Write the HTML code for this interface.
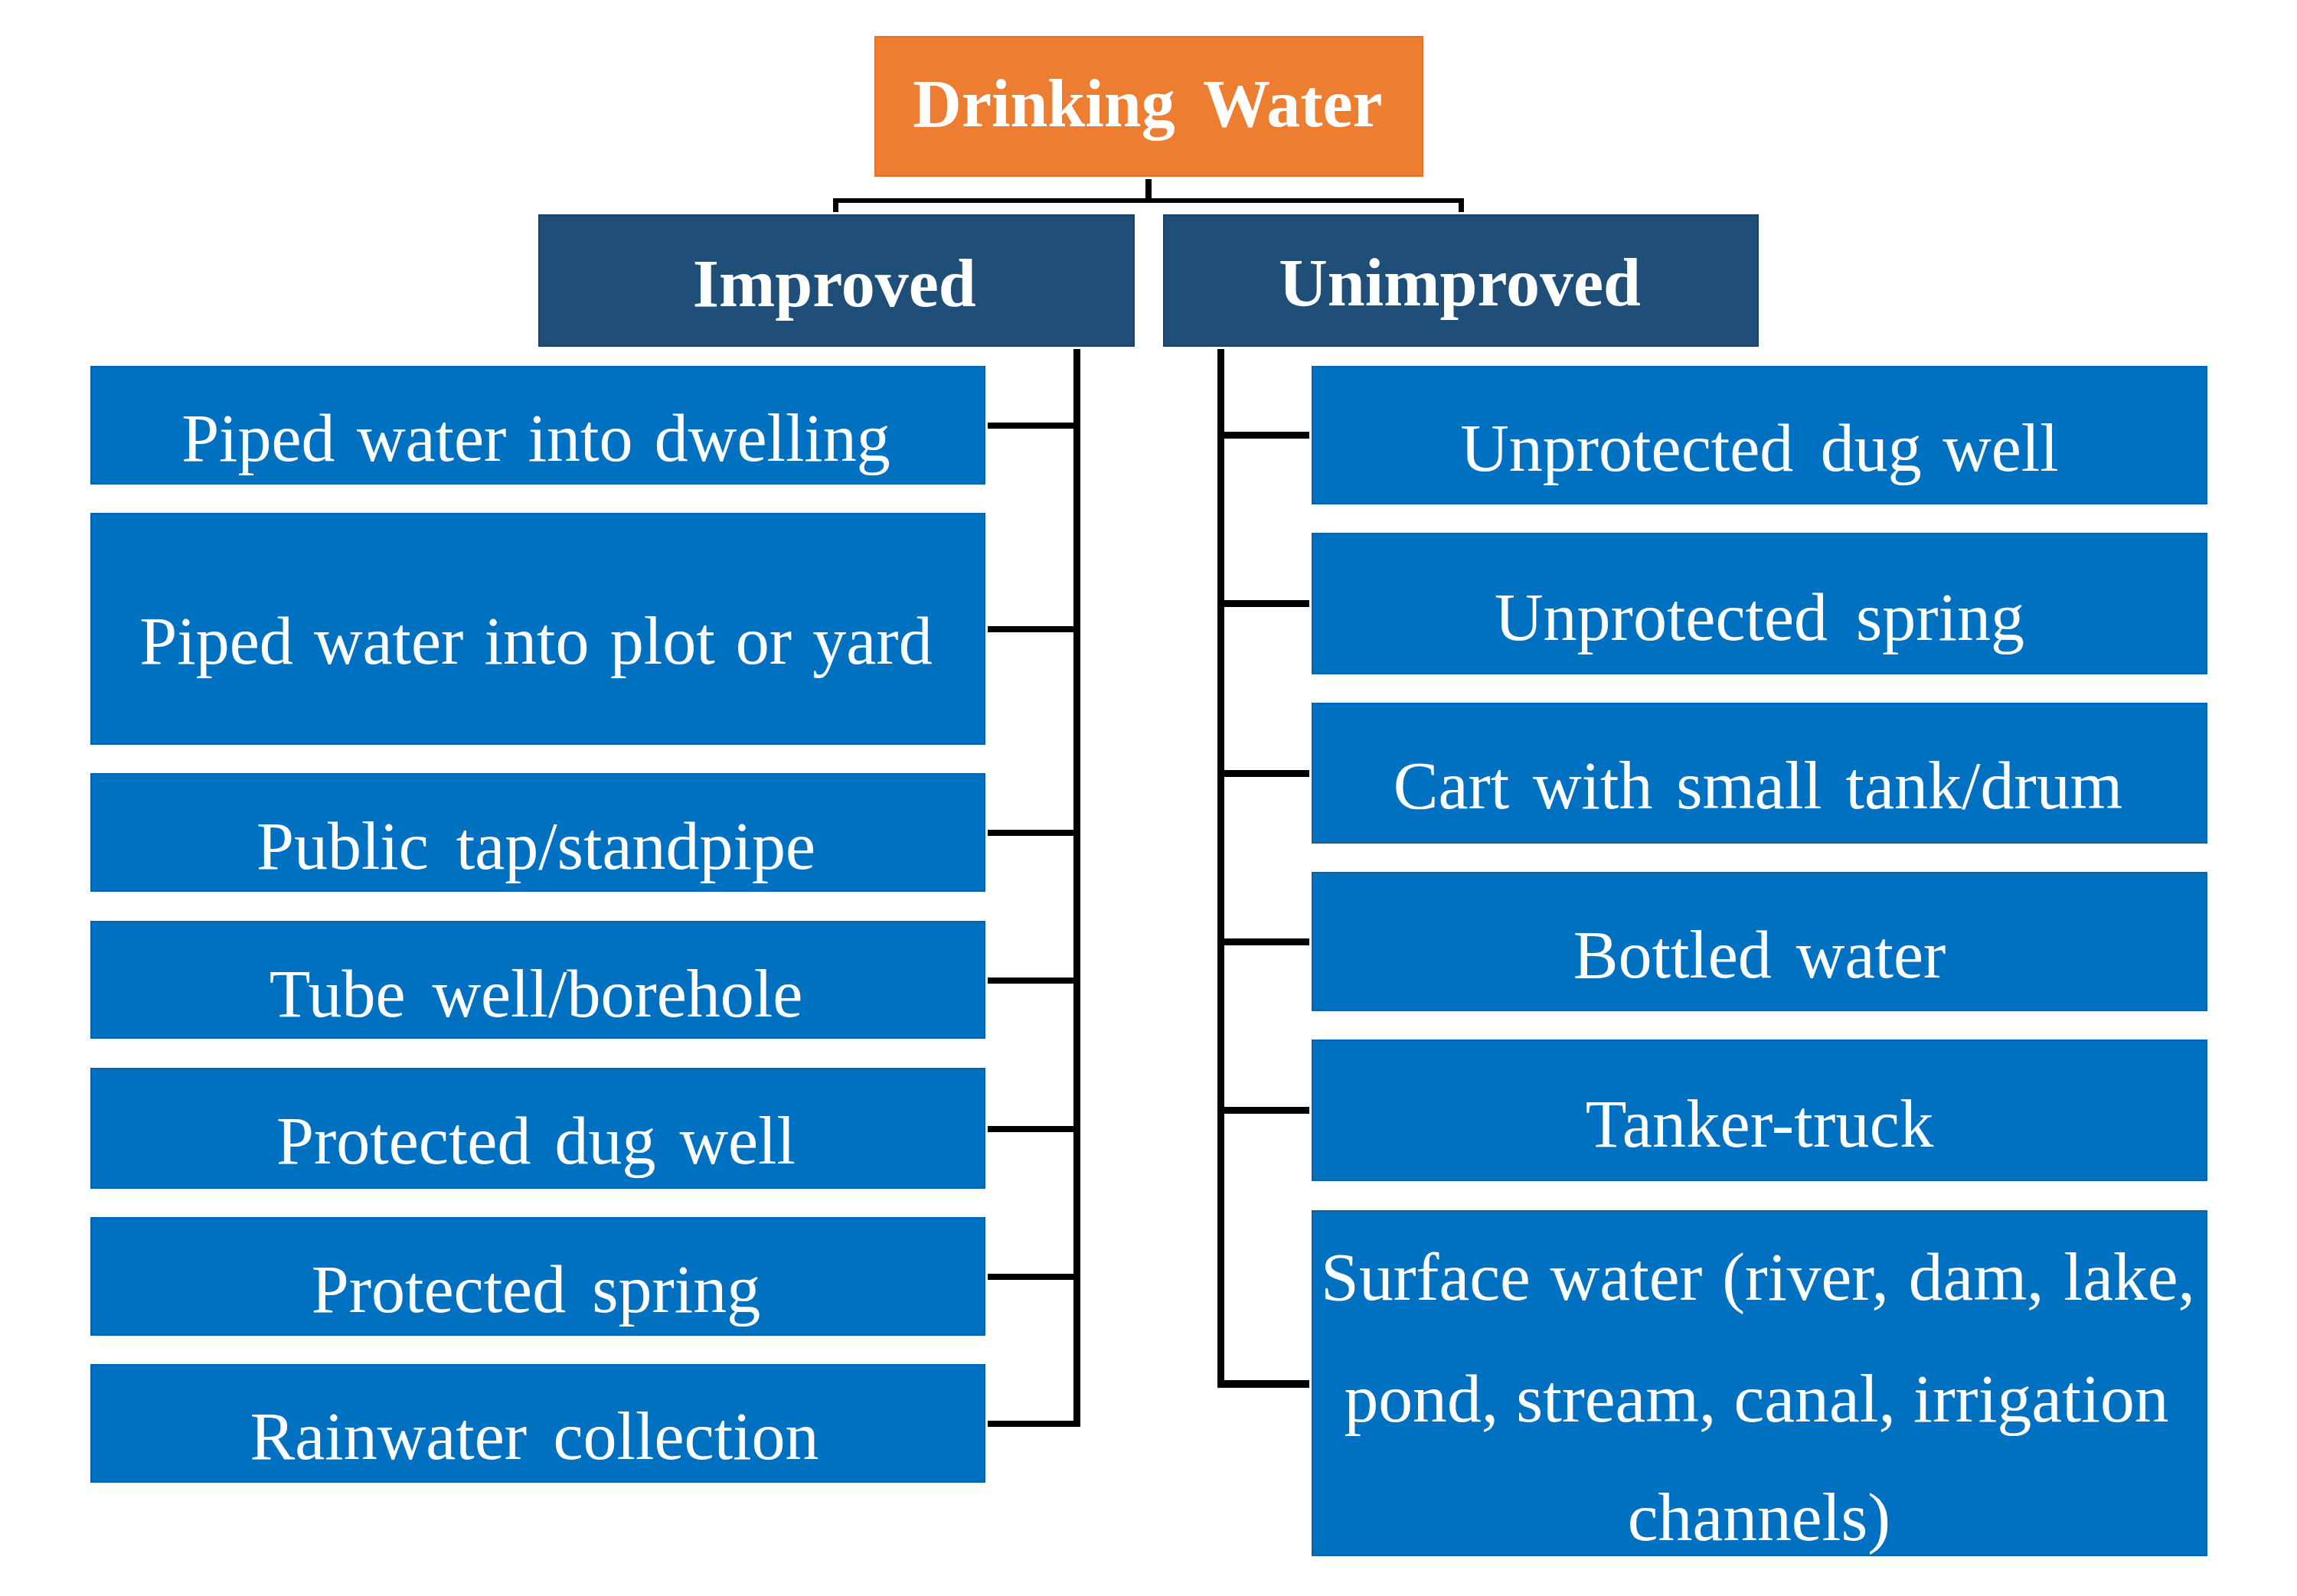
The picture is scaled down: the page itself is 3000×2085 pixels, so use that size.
<!DOCTYPE html><html><head><meta charset="utf-8"><title>Drinking Water</title><style>
html,body{margin:0;padding:0;background:#fff;width:3000px;height:2085px;overflow:hidden;position:relative}
.b{position:absolute}.l{position:absolute;background:#000}
.t{position:absolute;white-space:nowrap;text-align:center;color:#fff;font-family:"Liberation Serif",serif;font-size:88px;line-height:88px;width:2000px}
.bd{font-weight:bold}
</style></head><body>
<div class="b" style="left:1142px;top:47px;width:717px;height:184px;background:#ED7D31;box-shadow:inset 0 0 0 2px #E0722A"></div>
<div class="b" style="left:703px;top:280px;width:779px;height:173px;background:#1F4E79;box-shadow:inset 0 0 0 2px #1A4266"></div>
<div class="b" style="left:1519px;top:280px;width:778px;height:173px;background:#1F4E79;box-shadow:inset 0 0 0 2px #1A4266"></div>
<div class="b" style="left:118px;top:478px;width:1169px;height:155px;background:#0070C0;box-shadow:inset 0 0 0 2px #0664AA"></div>
<div class="b" style="left:118px;top:670px;width:1169px;height:303px;background:#0070C0;box-shadow:inset 0 0 0 2px #0664AA"></div>
<div class="b" style="left:118px;top:1010px;width:1169px;height:155px;background:#0070C0;box-shadow:inset 0 0 0 2px #0664AA"></div>
<div class="b" style="left:118px;top:1203px;width:1169px;height:154px;background:#0070C0;box-shadow:inset 0 0 0 2px #0664AA"></div>
<div class="b" style="left:118px;top:1395px;width:1169px;height:158px;background:#0070C0;box-shadow:inset 0 0 0 2px #0664AA"></div>
<div class="b" style="left:118px;top:1590px;width:1169px;height:155px;background:#0070C0;box-shadow:inset 0 0 0 2px #0664AA"></div>
<div class="b" style="left:118px;top:1782px;width:1169px;height:155px;background:#0070C0;box-shadow:inset 0 0 0 2px #0664AA"></div>
<div class="b" style="left:1713px;top:478px;width:1170px;height:181px;background:#0070C0;box-shadow:inset 0 0 0 2px #0664AA"></div>
<div class="b" style="left:1713px;top:696px;width:1170px;height:185px;background:#0070C0;box-shadow:inset 0 0 0 2px #0664AA"></div>
<div class="b" style="left:1713px;top:918px;width:1170px;height:184px;background:#0070C0;box-shadow:inset 0 0 0 2px #0664AA"></div>
<div class="b" style="left:1713px;top:1139px;width:1170px;height:182px;background:#0070C0;box-shadow:inset 0 0 0 2px #0664AA"></div>
<div class="b" style="left:1713px;top:1358px;width:1170px;height:185px;background:#0070C0;box-shadow:inset 0 0 0 2px #0664AA"></div>
<div class="b" style="left:1713px;top:1581px;width:1170px;height:452px;background:#0070C0;box-shadow:inset 0 0 0 2px #0664AA"></div>
<div class="l" style="left:1496px;top:234px;width:8px;height:28px"></div>
<div class="l" style="left:1088px;top:259px;width:824px;height:6px"></div>
<div class="l" style="left:1088px;top:259px;width:7px;height:18px"></div>
<div class="l" style="left:1905px;top:259px;width:7px;height:18px"></div>
<div class="l" style="left:1402px;top:456px;width:9px;height:1408px"></div>
<div class="l" style="left:1290px;top:552px;width:116px;height:8px"></div>
<div class="l" style="left:1290px;top:818px;width:116px;height:8px"></div>
<div class="l" style="left:1290px;top:1084px;width:116px;height:8px"></div>
<div class="l" style="left:1290px;top:1277px;width:116px;height:8px"></div>
<div class="l" style="left:1290px;top:1471px;width:116px;height:8px"></div>
<div class="l" style="left:1290px;top:1664px;width:116px;height:8px"></div>
<div class="l" style="left:1290px;top:1856px;width:116px;height:8px"></div>
<div class="l" style="left:1590px;top:456px;width:9px;height:1357px"></div>
<div class="l" style="left:1594px;top:564px;width:116px;height:9px"></div>
<div class="l" style="left:1594px;top:784px;width:116px;height:9px"></div>
<div class="l" style="left:1594px;top:1006px;width:116px;height:9px"></div>
<div class="l" style="left:1594px;top:1226px;width:116px;height:9px"></div>
<div class="l" style="left:1594px;top:1446px;width:116px;height:9px"></div>
<div class="l" style="left:1594px;top:1803px;width:116px;height:10px"></div>
<div class="t bd" style="left:499px;top:92.3px;word-spacing:16px">Drinking Water</div>
<div class="t bd" style="left:89.7px;top:326.8px">Improved</div>
<div class="t bd" style="left:906.6px;top:325.8px">Unimproved</div>
<div class="t" style="left:-300px;top:528.8px;word-spacing:6.3px">Piped water into dwelling</div>
<div class="t" style="left:-300px;top:794.3px;word-spacing:5.2px">Piped water into plot or yard</div>
<div class="t" style="left:-300px;top:1062.3px;word-spacing:14px">Public tap/standpipe</div>
<div class="t" style="left:-300px;top:1255.3px;word-spacing:13px">Tube well/borehole</div>
<div class="t" style="left:-300px;top:1447.3px;word-spacing:9px">Protected dug well</div>
<div class="t" style="left:-300px;top:1640.8px;word-spacing:12px">Protected spring</div>
<div class="t" style="left:-302px;top:1832.8px;word-spacing:12.5px">Rainwater collection</div>
<div class="t" style="left:1298px;top:541.8px;word-spacing:5.5px">Unprotected<span style="margin-left:8px"></span> dug well</div>
<div class="t" style="left:1298px;top:762.8px;word-spacing:15px">Unprotected spring</div>
<div class="t" style="left:1296px;top:982.8px;word-spacing:8.7px">Cart with small tank/drum</div>
<div class="t" style="left:1298px;top:1204.3px;word-spacing:10px">Bottled water</div>
<div class="t" style="left:1298px;top:1425.3px;letter-spacing:0.27px;text-indent:0.27px">Tanker-truck</div>
<div class="t" style="left:1296px;top:1623.8px;font-size:89.6px;word-spacing:3.4px">Surface water (river, dam, lake,</div>
<div class="t" style="left:1294px;top:1782.8px;font-size:89.6px;word-spacing:0.75px">pond, stream, canal, irrigation</div>
<div class="t" style="left:1297.5px;top:1937.8px;font-size:89.6px">channels)</div>
</body></html>
